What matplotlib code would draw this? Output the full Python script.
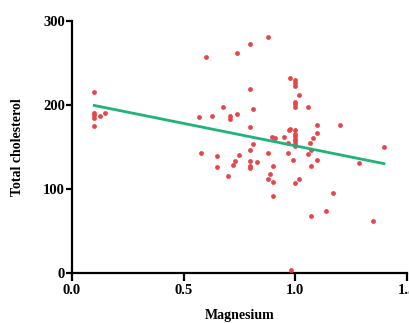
import numpy as np
import matplotlib
matplotlib.use('Agg')
import matplotlib.pyplot as plt

# magnesium vs total cholesterol
magnesium = [
    0.10, 0.10, 0.10, 0.10, 0.10, 0.127, 0.148,
    0.569, 0.578, 0.599, 0.628, 0.649, 0.649, 0.679, 0.70, 0.707, 0.709,
    0.72, 0.729, 0.74, 0.74, 0.749,
    0.80, 0.80, 0.80, 0.80, 0.80, 0.80, 0.80, 0.81, 0.81, 0.828,
    0.879, 0.879, 0.879, 0.889, 0.898, 0.90, 0.90, 0.90, 0.909, 0.949,
    0.97, 0.97, 0.972, 0.979, 0.979, 0.98, 0.99,
    1.0, 1.0, 1.0, 1.0, 1.0, 1.0, 1.0, 1.0, 1.0, 1.0, 1.0, 1.0, 1.0, 1.0,
    1.019, 1.019, 1.058, 1.058, 1.069, 1.07, 1.07, 1.07, 1.079,
    1.10, 1.10, 1.10, 1.139, 1.169, 1.20, 1.288, 1.351, 1.399,
]
cholesterol = [
    215, 190, 188, 184, 175, 187, 190,
    186, 143, 257, 187, 139, 126, 197, 115, 187, 183,
    129, 133, 189, 262, 140,
    272, 219, 174, 146, 133, 128, 125, 195, 154, 132,
    281, 143, 112, 118, 162, 127, 108, 92, 161, 162,
    143, 155, 170, 172, 232, 4, 135,
    230, 226, 223, 203, 201, 198, 170, 166, 163, 160, 157, 154, 151, 107,
    212, 112, 198, 142, 155, 147, 127, 68, 161,
    176, 167, 135, 74, 95, 176, 131, 62, 150,
]

# fitted line
fit_slope = -53.2
fit_intercept = 204.7

x_ticks = [0.0, 0.5, 1.0, 1.5]
x_labels = ['0.0', '0.5', '1.0', '1.5']
y_ticks = [0, 100, 200, 300]

plt.rcParams['font.family'] = ['Liberation Serif', 'DejaVu Serif']
plt.rcParams['font.weight'] = 'bold'

fig = plt.figure(figsize=(4.1, 3.23), dpi=100)
ax = fig.add_axes([0.1756, 0.1538, 0.8159, 0.782])

ax.scatter(magnesium, cholesterol, s=12, color='#e5464b', zorder=3,
           linewidths=0, clip_on=False)

line_x = np.array([min(magnesium), max(magnesium)])
ax.plot(line_x, fit_intercept + fit_slope * line_x, color='#1fb37a',
        linewidth=2, zorder=4)

ax.set_xlim(0, 1.5)
ax.set_ylim(0, 300)
ax.set_xticks(x_ticks)
ax.set_xticklabels(x_labels)
ax.set_yticks(y_ticks)

for side in ['top', 'right']:
    ax.spines[side].set_visible(False)
for side in ['left', 'bottom']:
    ax.spines[side].set_linewidth(1.6)

ax.tick_params(axis='x', length=6, width=1.6, pad=2, labelsize=10.5)
ax.tick_params(axis='y', length=4, width=1.6, pad=1, labelsize=10.5)
for lbl in ax.get_xticklabels() + ax.get_yticklabels():
    lbl.set_fontweight('bold')

ax.set_xlabel('Magnesium', fontsize=10, fontweight='bold')
ax.set_ylabel('Total cholesterol', fontsize=10, fontweight='bold')
ax.xaxis.set_label_coords(0.5, -0.14)
ax.yaxis.set_label_coords(-0.142, 0.5)

fig.savefig('out.png', dpi=100)
